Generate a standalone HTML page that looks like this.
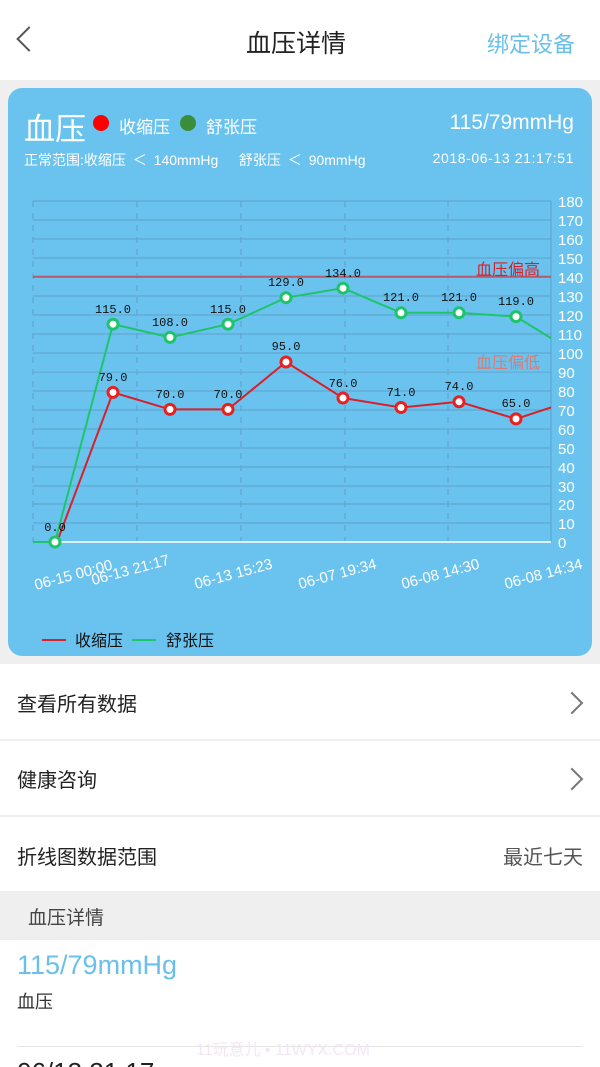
<!DOCTYPE html>
<html><head><meta charset="utf-8"><style>
html,body{margin:0;width:600px;height:1067px;overflow:hidden}
body{background:#efefef;font-family:"Liberation Sans","Noto Sans CJK SC",sans-serif;position:relative}
.a{position:absolute;white-space:nowrap}
.row{position:absolute;left:0;width:600px;background:#fff}
.chev{position:absolute;right:20px;width:14px;height:14px;border-right:2px solid #777;border-top:2px solid #777;transform:rotate(45deg)}
</style></head><body>
<div class="row" style="top:0;height:80px;background:#fff"></div>
<div class="a" style="left:20px;top:30px;width:16px;height:16px;border-left:2px solid #555;border-bottom:2px solid #555;transform:rotate(45deg)"></div>
<div class="a" style="left:246px;top:24px;font-size:25px;color:#222">血压详情</div>
<div class="a" style="right:25px;top:27px;font-size:22px;color:#6ac0ea">绑定设备</div>
<div class="a" style="left:8px;top:88px;width:584px;height:568px;border-radius:14px;background:#6ac3ee"></div>
<div class="a" style="left:24px;top:104px;font-size:31px;color:#fff">血压</div>
<div class="a" style="left:93px;top:115px;width:16px;height:16px;border-radius:50%;background:#f00"></div>
<div class="a" style="left:119px;top:113px;font-size:17px;color:#fff">收缩压</div>
<div class="a" style="left:180px;top:115px;width:16px;height:16px;border-radius:50%;background:#3a8e3a"></div>
<div class="a" style="left:206px;top:113px;font-size:17px;color:#fff">舒张压</div>
<div class="a" style="right:26px;top:111px;font-size:21px;color:#fff">115/79mmHg</div>
<div class="a" style="left:24px;top:150px;font-size:14px;color:#fff;word-spacing:3px">正常范围:收缩压 ＜ 140mmHg &nbsp;&nbsp;舒张压 ＜ 90mmHg</div>
<div class="a" style="right:26px;top:150px;font-size:14px;color:#fff;letter-spacing:0.6px">2018-06-13 21:17:51</div>
<svg class="a" style="left:0;top:0" width="600" height="660" font-family="Liberation Sans,sans-serif">
<g stroke="#5fa2c9" stroke-width="1">
<path d="M33 201H551M33 220H551M33 239H551M33 258H551M33 277H551M33 296H551M33 315H551M33 334H551M33 353H551M33 372H551M33 391H551M33 410H551M33 429H551M33 448H551M33 467H551M33 486H551M33 504H551M33 523H551M551 201V542"/>
</g>
<g stroke="#5fa2c9" stroke-dasharray="6,6"><path d="M33 201V542M137 201V542M241 201V542M345 201V542M448 201V542"/></g>
<path d="M33 542H551" stroke="#fff" stroke-width="1.5"/>
<path d="M33 276.8H551" stroke="#b45a6a" stroke-width="2"/>
<path d="M33 371.5H551" stroke="#d98f8f" stroke-width="1"/>
<text x="540" y="275" fill="#d8202a" font-size="16" text-anchor="end" font-family="Noto Sans CJK SC">血压偏高</text>
<text x="540" y="368" fill="#e07a70" font-size="16" text-anchor="end" font-family="Noto Sans CJK SC">血压偏低</text>
<g fill="#fff" font-size="15">
<text x="558" y="207">180</text><text x="558" y="226">170</text><text x="558" y="245">160</text><text x="558" y="264">150</text><text x="558" y="283">140</text><text x="558" y="302">130</text><text x="558" y="321">120</text><text x="558" y="340">110</text><text x="558" y="359">100</text><text x="558" y="378">90</text><text x="558" y="397">80</text><text x="558" y="416">70</text><text x="558" y="435">60</text><text x="558" y="454">50</text><text x="558" y="473">40</text><text x="558" y="492">30</text><text x="558" y="510">20</text><text x="558" y="529">10</text><text x="558" y="548">0</text>
</g>
<svg x="0" y="0" width="551" height="660" overflow="hidden">
<polyline fill="none" stroke="#d8202a" stroke-width="2" points="57,542 113,392.4 170,409.4 228,409.4 286,362 343,398 401,407.5 459,401.8 516,418.9 580,398"/>
<polyline fill="none" stroke="#1ec46a" stroke-width="2" points="33,542 55,542 113,324.2 170,337.4 228,324.2 286,297.7 343,288.2 401,312.8 459,312.8 516,316.6 580,356"/>
</svg>
<g fill="#fff" stroke="#e82020" stroke-width="3">
<circle cx="113" cy="392.4" r="5"/><circle cx="170" cy="409.4" r="5"/><circle cx="228" cy="409.4" r="5"/><circle cx="286" cy="362" r="5"/><circle cx="343" cy="398" r="5"/><circle cx="401" cy="407.5" r="5"/><circle cx="459" cy="401.8" r="5"/><circle cx="516" cy="418.9" r="5"/>
</g>
<g fill="#fff" stroke="#1ec46a" stroke-width="3">
<circle cx="55" cy="542" r="5"/><circle cx="113" cy="324.2" r="5"/><circle cx="170" cy="337.4" r="5"/><circle cx="228" cy="324.2" r="5"/><circle cx="286" cy="297.7" r="5"/><circle cx="343" cy="288.2" r="5"/><circle cx="401" cy="312.8" r="5"/><circle cx="459" cy="312.8" r="5"/><circle cx="516" cy="316.6" r="5"/>
</g>
<g fill="#111" font-size="12" text-anchor="middle" font-family="Liberation Mono,monospace">
<text x="55" y="531">0.0</text>
<text x="113" y="381">79.0</text><text x="170" y="398">70.0</text><text x="228" y="398">70.0</text><text x="286" y="350">95.0</text><text x="343" y="387">76.0</text><text x="401" y="396">71.0</text><text x="459" y="390">74.0</text><text x="516" y="407">65.0</text>
<text x="113" y="313">115.0</text><text x="170" y="326">108.0</text><text x="228" y="313">115.0</text><text x="286" y="286">129.0</text><text x="343" y="277">134.0</text><text x="401" y="301">121.0</text><text x="459" y="301">121.0</text><text x="516" y="305">119.0</text>
</g>
<g fill="#fff" font-size="15">
<text transform="translate(36,590) rotate(-15)">06-15 00:00</text>
<text transform="translate(93,585) rotate(-15)">06-13 21:17</text>
<text transform="translate(196,589) rotate(-15)">06-13 15:23</text>
<text transform="translate(300,589) rotate(-15)">06-07 19:34</text>
<text transform="translate(403,589) rotate(-15)">06-08 14:30</text>
<text transform="translate(506,589) rotate(-15)">06-08 14:34</text>
</g>
<path d="M42 640H66" stroke="#d8202a" stroke-width="2"/>
<text x="75" y="646" font-size="16" fill="#111" font-family="Noto Sans CJK SC">收缩压</text>
<path d="M132 640H156" stroke="#1ec46a" stroke-width="2"/>
<text x="166" y="646" font-size="16" fill="#111" font-family="Noto Sans CJK SC">舒张压</text>
</svg>
<div class="row" style="top:664px;height:75px"></div>
<div class="a" style="left:17px;top:688px;font-size:20px;color:#222">查看所有数据</div>
<div class="chev" style="top:695px"></div>
<div class="row" style="top:741px;height:74px"></div>
<div class="a" style="left:17px;top:764px;font-size:20px;color:#222">健康咨询</div>
<div class="chev" style="top:771px"></div>
<div class="row" style="top:817px;height:74px"></div>
<div class="a" style="left:17px;top:841px;font-size:20px;color:#222">折线图数据范围</div>
<div class="a" style="right:17px;top:841px;font-size:20px;color:#555">最近七天</div>
<div class="a" style="left:28px;top:903px;font-size:19px;color:#444">血压详情</div>
<div class="row" style="top:940px;height:127px"></div>
<div class="a" style="left:17px;top:950px;font-size:27px;color:#6ac0ea">115/79mmHg</div>
<div class="a" style="left:17px;top:988px;font-size:18px;color:#333">血压</div>
<div class="a" style="left:17px;top:1046px;width:566px;height:1px;background:#e5e5e5"></div>
<div class="a" style="left:196px;top:1036px;font-size:16px;color:#f4e6f4">11玩意儿 • 11WYX.COM</div>
<div class="a" style="left:17px;top:1057px;font-size:26px;color:#222">06/13 21:17</div>
</body></html>
